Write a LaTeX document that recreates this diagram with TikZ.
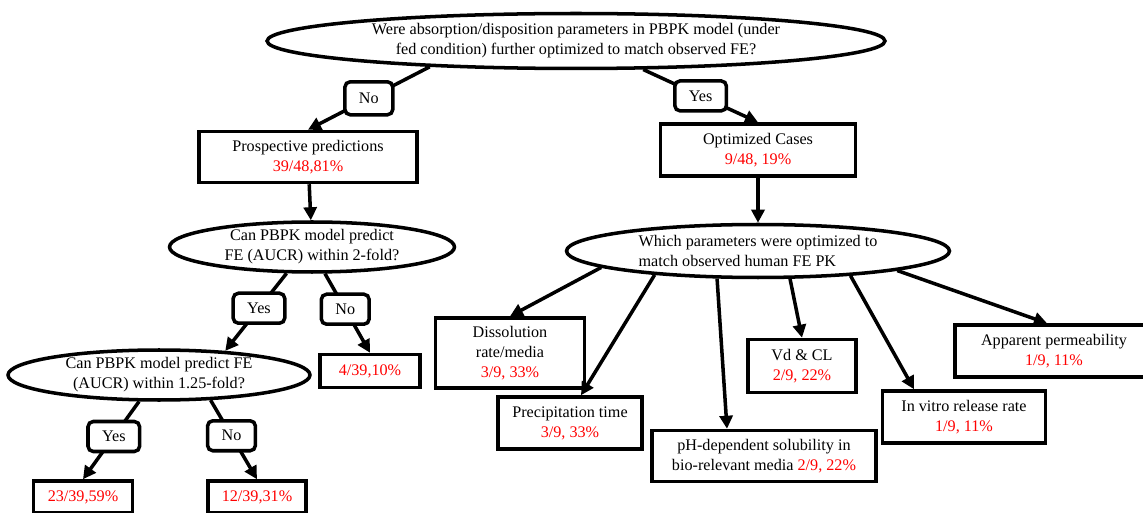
\documentclass[tikz,border=0pt]{standalone}
\usepackage{fontspec}
\setmainfont{Liberation Serif}
\usepackage{tikz}
\usetikzlibrary{arrows.meta,shapes.geometric}
\newcommand{\redtxt}[1]{\textcolor{red}{#1}}
\tikzset{
  block/.style={draw=black, line width=2pt, align=center, fill=white, inner sep=2pt},
  question/.style={ellipse, draw=black, line width=2pt, align=center, fill=white, inner sep=0pt},
  answer/.style={draw=black, line width=2pt, rounded corners=3pt, fill=white,
    inner xsep=8pt, minimum height=0.6cm},
  arr/.style={-{Triangle[length=2.6mm,width=2.6mm]}, line width=2pt},
  link/.style={line width=2pt}
}

\begin{document}
\begin{tikzpicture}[x=0.02cm, y=-0.02cm, font=\fontsize{9.2}{11.4}\selectfont]
  \useasboundingbox (0,0) rectangle (1143,513);
  \clip (0,0) rectangle (1143,513);

  % questions
  \node[question, minimum width=12.36cm, minimum height=1.1cm] (q1) at (576,41) {Were absorption/disposition parameters in PBPK model (under\\fed condition) further optimized to match observed FE?};
  \node[question, minimum width=5.7cm, minimum height=1cm] (q3) at (312,247) {Can PBPK model predict\\FE (AUCR) within 2-fold?};
  \node[question, minimum width=6.04cm, minimum height=1cm] (q4) at (159,375) {Can PBPK model predict FE\\(AUCR) within 1.25-fold?};
  \node[question, minimum width=7.66cm, minimum height=1.06cm, align=left] (q2) at (758,251) {Which parameters were optimized to\\match observed human FE PK};

  % left branch
  \node[block, minimum width=4.36cm, minimum height=1.02cm] (pros) at (308,157) {Prospective predictions\\\redtxt{39/48,81\%}};
  \node[block, minimum width=2cm, minimum height=0.66cm] (r4) at (370,371) {\redtxt{4/39,10\%}};
  \node[block, minimum width=1.98cm, minimum height=0.64cm] (r23) at (83,497) {\redtxt{23/39,59\%}};
  \node[block, minimum width=1.96cm, minimum height=0.64cm] (r12) at (257,497) {\redtxt{12/39,31\%}};

  % right branch
  \node[block, minimum width=3.9cm, minimum height=1.04cm] (opt) at (758,150) {Optimized Cases\\\redtxt{9/48, 19\%}};
  \node[block, minimum width=2.98cm, minimum height=1.4cm] (diss) at (510,353) {Dissolution\\rate/media\\\redtxt{3/9, 33\%}};
  \node[block, minimum width=2.88cm, minimum height=1.04cm] (prec) at (570,423) {Precipitation time\\\redtxt{3/9, 33\%}};
  \node[block, minimum width=4.48cm, minimum height=1.02cm] (ph) at (764,456) {pH-dependent solubility in\\bio-relevant media \redtxt{2/9, 22\%}};
  \node[block, minimum width=2.16cm, minimum height=1.06cm] (vd) at (802,366) {Vd \& CL\\\redtxt{2/9, 22\%}};
  \node[block, minimum width=3.26cm, minimum height=1.04cm] (invit) at (964,417) {In vitro release rate\\\redtxt{1/9, 11\%}};
  \node[block, minimum width=3.96cm, minimum height=1.04cm] (app) at (1054,351) {Apparent permeability\\\redtxt{1/9, 11\%}};

  % connectors with answers
  \draw[arr] (q1.-170) -- node[answer, minimum height=0.66cm] (no1) {No} (pros.north);
  \draw[arr] (q1.-23) -- node[answer] (yes1) {Yes} (opt.north);
  \draw[arr] (q3.-134) -- node[answer, pos=0.45] (yes2) {Yes} (q4.20);
  \draw[arr] (q3.-64) -- node[answer, pos=0.45] (no2) {No} (r4.north);
  \draw[arr] (q4.-127) -- node[answer, pos=0.45] (yes3) {Yes} (r23.north);
  \draw[arr] (q4.-26) -- node[answer, pos=0.45] (no3) {No} (r12.north);

  \draw[arr] (pros) -- (q3);
  \draw[arr] (opt) -- (q2);

  \draw[arr] (q2.-174) -- (diss.north);
  \draw[arr] (q2.-167) -- ([xshift=0.22cm]prec.north);
  \draw[arr] (q2.-146) -- ([xshift=-0.74cm]ph.north);
  \draw[arr] (q2.-41) -- (vd.north);
  \draw[arr] (q2.-15) -- ([xshift=-1cm]invit.north);
  \draw[arr] (q2.-8) -- ([xshift=-0.14cm]app.north);
\end{tikzpicture}
\end{document}
